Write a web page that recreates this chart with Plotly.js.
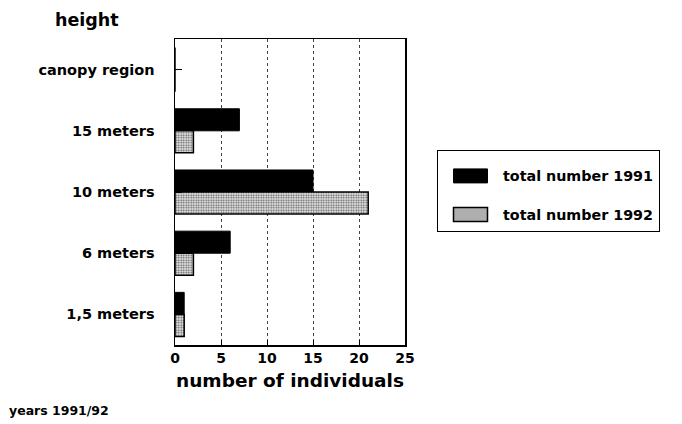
<!DOCTYPE html>
<html><head><meta charset="utf-8">
<script src="https://cdn.plot.ly/plotly-3.0.1.min.js"></script>
<style>html,body{margin:0;padding:0;background:#fff}#c{width:682px;height:424px}</style>
</head><body><div id="c"></div>
<script>
const heights = ["canopy region", "15 meters", "10 meters", "6 meters", "1,5 meters"];
const total1991 = [0, 7, 15, 6, 1];
const total1992 = [0, 2, 21, 2, 1];
const xTicks = [0, 5, 10, 15, 20, 25];
const seriesNames = ["total number 1991", "total number 1992"];

const F = "DejaVu Sans, Liberation Sans, sans-serif";
const traces = [
  {type: "bar", orientation: "h", y: heights, x: total1991, name: seriesNames[0], legendgroup: "a",
   marker: {color: "#000", line: {color: "#000", width: 1}}},
  {type: "bar", orientation: "h", y: heights, x: total1992, name: seriesNames[1], legendgroup: "b",
   marker: {color: "#fff", line: {color: "#000", width: 1.5},
            pattern: {shape: ".", fgcolor: "#555", bgcolor: "#e6e6e6", size: 2.5, solidity: 0.4}}}
];
const PW = 230, PH = 306;
const layout = {
  width: 682, height: 424,
  margin: {l: 175, r: 277, t: 39, b: 79, autoexpand: false},
  paper_bgcolor: "#fff", plot_bgcolor: "#fff",
  barmode: "group", bargap: 0.28, bargroupgap: 0,
  font: {family: F, color: "#000", size: 14, weight: "bold"},
  xaxis: {range: [0, 25], tickvals: xTicks, ticktext: xTicks.map(String),
    showgrid: true, gridcolor: "#444", griddash: "dot", gridwidth: 1,
    zeroline: false, showline: true, linecolor: "#000", linewidth: 1.5, mirror: true,
    ticks: "inside", ticklen: 5, tickcolor: "#000",
    tickfont: {family: F, size: 14, weight: "bold"},
    title: {text: "number of individuals", font: {family: F, size: 18.5, weight: "bold"}, standoff: 9}},
  yaxis: {type: "category", categoryarray: heights, autorange: "reversed",
    showgrid: false, zeroline: false, showline: true, linecolor: "#000", linewidth: 1.5, mirror: true,
    ticks: "inside", ticklen: 7, tickcolor: "#000", ticklabelstandoff: 16,
    tickfont: {family: F, size: 14.5, weight: "bold"}},
  showlegend: true,
  legend: {x: (437 - 175) / PW, xanchor: "left", y: (345 - 150) / PH, yanchor: "top",
    bordercolor: "#000", borderwidth: 1, bgcolor: "#fff", traceorder: "grouped",
    title: {text: " ", font: {size: 7}},
    font: {family: F, size: 14.3, weight: "bold"}, itemwidth: 55, tracegroupgap: 17},
  annotations: [
    {text: "height", xref: "paper", yref: "paper", x: (53 - 175) / PW, y: (345 - 20) / PH, xanchor: "left", yanchor: "middle",
     showarrow: false, font: {family: F, size: 17.5, weight: "bold"}},
    {text: "years 1991/92", xref: "paper", yref: "paper", x: (7 - 175) / PW, y: (345 - 410) / PH, xanchor: "left", yanchor: "middle",
     showarrow: false, font: {family: F, size: 12.5, weight: "bold"}}
  ]
};
Plotly.newPlot("c", traces, layout, {displayModeBar: false, staticPlot: true}).then(function (gd) {
  gd.querySelectorAll(".legend .legendpoints path").forEach(function (p) {
    p.setAttribute("d", "M17,7H-17V-7H17Z");
  });
});
</script></body></html>
